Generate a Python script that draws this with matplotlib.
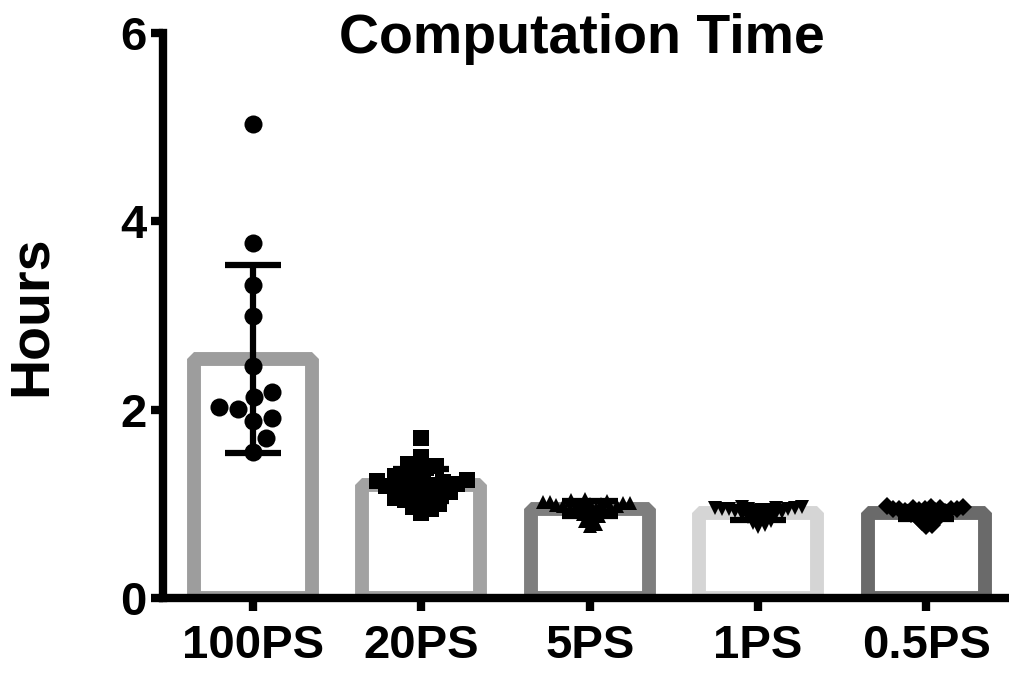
import numpy as np
import matplotlib.pyplot as plt

plt.rcParams["font.family"] = ["Liberation Sans", "DejaVu Sans"]
plt.rcParams["font.weight"] = "bold"

CATEGORIES = ["100PS", "20PS", "5PS", "1PS", "0.5PS"]
BAR_COLORS = ["#9d9d9d", "#a2a2a2", "#7e7e7e", "#d5d5d5", "#6a6a6a"]
MARKERS = ["o", "s", "^", "v", "D"]
MARKER_SIZES = [13, 12, 10, 10, 9]

HOURS_100PS = [5.03, 3.77, 3.32, 2.99, 2.46, 2.19, 2.13, 2.03, 2.01, 1.91, 1.88, 1.70, 1.55]
HOURS_20PS = [1.70, 1.50, 1.42, 1.40, 1.38, 1.33, 1.30, 1.28, 1.26, 1.25, 1.24, 1.23,
              1.22, 1.21, 1.20, 1.19, 1.18, 1.17, 1.15, 1.13, 1.12, 1.10, 1.08, 1.06,
              1.04, 1.02, 1.00, 0.97, 0.94, 0.90]
HOURS_5PS = [1.05, 1.04, 1.03, 1.02, 1.02, 1.01, 1.01, 1.00, 1.00, 0.99, 0.99, 0.98,
             0.98, 0.97, 0.96, 0.95, 0.94, 0.93, 0.92, 0.91, 0.89, 0.87, 0.85, 0.82,
             0.79, 0.76]
HOURS_1PS = [0.97, 0.97, 0.96, 0.96, 0.96, 0.95, 0.95, 0.94, 0.94, 0.93, 0.93, 0.92,
             0.91, 0.90, 0.89, 0.88, 0.87, 0.86, 0.84, 0.82, 0.80, 0.77, 0.75]
HOURS_05PS = [0.98, 0.97, 0.97, 0.96, 0.96, 0.95, 0.95, 0.95, 0.94, 0.94, 0.93, 0.92,
              0.92, 0.91, 0.90, 0.89, 0.88, 0.87, 0.86, 0.85, 0.83, 0.81, 0.78, 0.76]
GROUPS = [HOURS_100PS, HOURS_20PS, HOURS_5PS, HOURS_1PS, HOURS_05PS]
# how close two dots may sit, as a share of the marker size
SPACING = [1.05, 0.6, 0.5, 0.5, 0.5]


def swarm_x(ax, x0, values, size_px):
    # simple beeswarm: push each point sideways until it no longer overlaps
    trans = ax.transData
    vals = np.asarray(values, dtype=float)
    pts = trans.transform(np.column_stack([np.full(len(vals), x0), vals]))
    placed = []
    xs = np.zeros(len(vals))
    for i in np.argsort(vals):
        px, py = pts[i]
        found = None
        for k in range(400):
            for sign in ((1,) if k == 0 else (1, -1)):
                cx = px + sign * k * 0.5
                if all((cx - qx) ** 2 + (py - qy) ** 2 >= size_px ** 2 for qx, qy in placed):
                    found = cx
                    break
            if found is not None:
                break
        placed.append((found, py))
        xs[i] = found
    return trans.inverted().transform(np.column_stack([xs, pts[:, 1]]))[:, 0]


fig = plt.figure(figsize=(10.09, 6.73), dpi=100)
ax = fig.add_axes([163 / 1009, 75 / 673, 846 / 1009, 565 / 673])
ax.set_xlim(-0.534, 4.49)
ax.set_ylim(0, 6)

x = np.arange(len(CATEGORIES))
means = [np.mean(g) for g in GROUPS]
sds = [np.std(g, ddof=1) for g in GROUPS]

ax.bar(x, means, width=0.7, facecolor="white", edgecolor=BAR_COLORS,
       linewidth=10, joinstyle="bevel", zorder=1)
ax.errorbar(x, means, yerr=sds, fmt="none", ecolor="black", elinewidth=4.5,
            capsize=20, capthick=4.5, zorder=3)

for i, vals in enumerate(GROUPS):
    size_px = MARKER_SIZES[i] * fig.dpi / 72
    xs = swarm_x(ax, x[i], vals, size_px * SPACING[i])
    ax.plot(xs, vals, linestyle="none", marker=MARKERS[i], markersize=MARKER_SIZES[i],
            color="black", markeredgewidth=0, zorder=4)

for side in ["top", "right"]:
    ax.spines[side].set_visible(False)
for side in ["left", "bottom"]:
    ax.spines[side].set_linewidth(6)
    ax.spines[side].set_capstyle("projecting")

ax.set_yticks([0, 2, 4, 6])
ax.set_xticks(x)
ax.set_xticklabels(CATEGORIES)
ax.tick_params(axis="both", width=6, length=9, labelsize=34)
ax.tick_params(axis="x", pad=10)
ax.tick_params(axis="y", pad=3)

ax.text(-0.155, 0.5, "Hours", transform=ax.transAxes, rotation=90,
        ha="center", va="center", fontsize=40, fontweight="bold")
ax.text(0.495, 0.9646, "Computation Time", transform=ax.transAxes,
        ha="center", va="baseline", fontsize=40, fontweight="bold")

fig.savefig("out.png", dpi=100)
